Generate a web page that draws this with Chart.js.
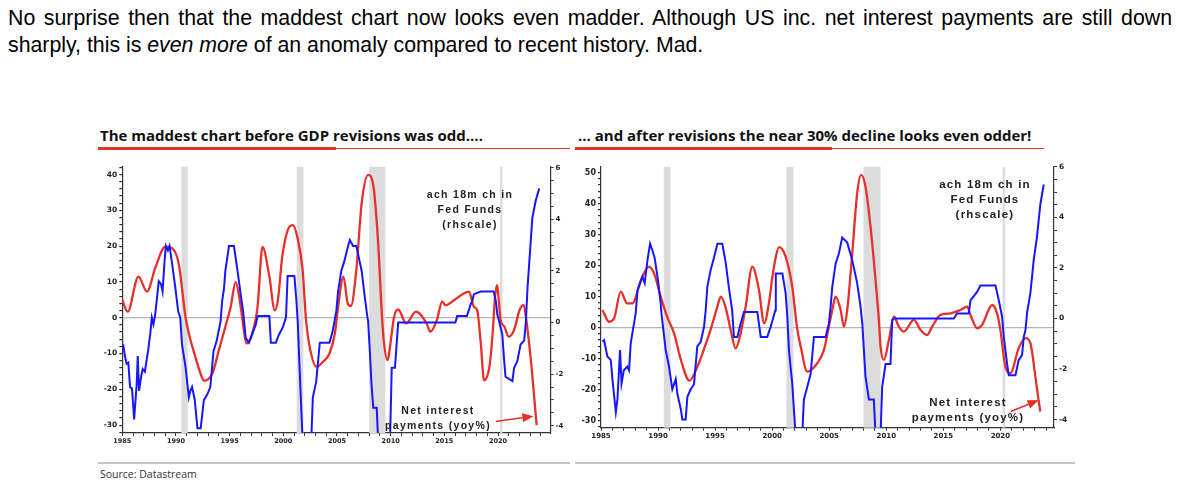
<!DOCTYPE html>
<html>
<head>
<meta charset="utf-8">
<script src="https://cdn.jsdelivr.net/npm/chart.js@4.4.0/dist/chart.umd.min.js"></script>
<style>
  html, body { margin: 0; padding: 0; background: #fff; }
  body { position: relative; width: 1182px; height: 490px; overflow: hidden; }
  .intro { position: absolute; left: 8px; top: 5px; width: 1164px; font: 21.3px/27px 'Liberation Sans', Arial, sans-serif; color: #000; }
  .intro .l1 { text-align: justify; text-align-last: justify; white-space: nowrap; }
  .title { position: absolute; top: 125px; font: bold 15px 'Open Sans', sans-serif; color: #111; white-space: nowrap; }
  .rule { position: absolute; background: #e8302a; }
  .grey { position: absolute; height: 2px; background: #c4c4c4; }
  .note { position: absolute; font: bold 10.5px/15px 'Liberation Sans', Arial, sans-serif; letter-spacing: 1.3px; color: #222; text-align: center; white-space: nowrap; transform: translate(-50%, -50%); }
  .note.big { font-size: 11.5px; line-height: 15px; letter-spacing: 1.2px; }
  .source { position: absolute; left: 100px; top: 467px; font: 10.5px 'Open Sans', sans-serif; color: #333; }
  canvas { position: absolute; top: 160px; }
</style>
</head>
<body>
<div class="intro">
  <div class="l1">No surprise then that the maddest chart now looks even madder. Although US inc. net interest payments are still down</div>
  <div>sharply, this is <i>even more</i> of an anomaly compared to recent history. Mad.</div>
</div>

<div class="title" style="left:100px">The maddest chart before GDP revisions was odd....</div>
<div class="title" style="left:578px">... and after revisions the near 30% decline looks even odder!</div>
<div class="rule" style="left:98px;top:147px;width:238px;height:3px"></div>
<div class="rule" style="left:336px;top:148px;width:234px;height:1px"></div>
<div class="rule" style="left:575px;top:147px;width:257px;height:3px"></div>
<div class="rule" style="left:832px;top:148px;width:212px;height:1px"></div>

<canvas id="chart-before" width="480" height="290" style="left:95px"></canvas>
<canvas id="chart-after" width="500" height="290" style="left:575px"></canvas>

<div class="note" style="left:470px;top:209px">ach 18m ch in<br>Fed Funds<br>(rhscale)</div>
<div class="note" style="left:438px;top:418px">Net interest<br>payments (yoy%)</div>
<div class="note big" style="left:985px;top:199px">ach 18m ch in<br>Fed Funds<br>(rhscale)</div>
<div class="note big" style="left:968px;top:410px">Net interest<br>payments (yoy%)</div>

<div class="grey" style="left:98px;top:462px;width:472px"></div>
<div class="grey" style="left:575px;top:462px;width:500px"></div>
<div class="source">Source: Datastream</div>

<script>
// ---- data ----

// before GDP revisions: net interest payments, yoy% (lhs)
const beforeNetYears = [1984.95, 1985.5, 1986.5, 1987.3, 1988.1, 1989.0, 1989.6, 1990.25, 1990.9, 1991.2,
  1991.8, 1992.4, 1992.6, 1993.4, 1994.0, 1994.6, 1995.1, 1995.56, 1995.94, 1996.2,
  1996.56, 1997.1, 1997.6, 1998.06, 1998.7, 1999.2, 1999.5, 1999.9, 2000.56, 2000.9,
  2001.3, 2001.8, 2002.1, 2002.4, 2003.1, 2003.7, 2004.3, 2004.8, 2005.1, 2005.6,
  2006.0, 2006.3, 2006.8, 2007.3, 2007.9, 2008.4, 2008.8, 2009.2, 2009.35, 2009.7,
  2010.1, 2010.3, 2010.7, 2011.45, 2012.35, 2013.35, 2013.7, 2014.3, 2014.8, 2015.1,
  2015.9, 2016.8, 2017.3, 2017.75, 2018.06, 2018.4, 2018.7, 2019.2, 2019.5, 2019.7,
  2019.9, 2020.25, 2020.6, 2021.0, 2021.5, 2022.0, 2022.4, 2022.6, 2023.06, 2023.6];
const beforeNetValues = [5.4, 1.7, 11.5, 7.3, 14.2, 19.8, 19.5, 15.2, 0, -4.4,
  -10.9, -16.5, -17.6, -15.5, -9, -2.5, 3.1, 10, 4.9, -0.7,
  -7.2, -4.4, 3.1, 19.8, 11.5, 2.1, 5, 17, 25.4, 25.9,
  22.6, 13.3, 0, -7.2, -13.7, -12.3, -10, -4.4, 3, 11.5,
  4, 3.3, 13.3, 32, 39.9, 36.6, 22.6, 0, -6.2, -11.8,
  -4.4, 0, 2.3, -1.6, 1.7, -1.6, -3.9, -0.7, 4.5, 3.5,
  4.9, 6.8, 7.3, 3.1, 2.1, -7.2, -17.5, -13.7, -4.4, 4.9,
  9.1, -0.7, -2.5, -5.3, -3.4, 2.1, 3.5, 0.3, -11.8, -30];

// before GDP revisions: 18m change in Fed Funds (rhs)
const beforeFedYears = [1984.94, 1985.1, 1985.25, 1985.4, 1985.56, 1985.72, 1985.9, 1986.03, 1986.1, 1986.34,
  1986.44, 1986.56, 1986.75, 1986.9, 1987.1, 1987.4, 1987.6, 1987.75, 1987.9, 1988.06,
  1988.2, 1988.4, 1988.6, 1988.75, 1988.94, 1989.06, 1989.25, 1989.4, 1989.6, 1989.94,
  1990.2, 1990.4, 1990.56, 1990.9, 1991.2, 1991.34, 1991.5, 1991.75, 1992.0, 1992.3,
  1992.6, 1992.9, 1993.2, 1993.5, 1993.8, 1994.16, 1994.3, 1994.47, 1994.6, 1994.94,
  1995.4, 1995.7, 1996.03, 1996.25, 1996.5, 1996.8, 1997.1, 1997.44, 1997.6, 1998.7,
  1998.84, 1999.3, 1999.6, 1999.94, 2000.25, 2000.4, 2001.03, 2001.2, 2001.34, 2001.5,
  2001.8, 2002.6, 2002.75, 2003.06, 2003.4, 2004.3, 2004.6, 2004.94, 2005.1, 2005.4,
  2005.7, 2006.03, 2006.2, 2006.5, 2006.8, 2007.3, 2007.6, 2007.84, 2007.9, 2008.06,
  2008.2, 2008.38, 2008.7, 2008.84, 2009.94, 2010.1, 2010.4, 2010.7, 2016.03, 2016.2,
  2017.1, 2017.3, 2017.44, 2017.6, 2017.75, 2018.4, 2019.6, 2019.8, 2019.94, 2020.1,
  2020.4, 2020.56, 2020.7, 2021.34, 2021.5, 2021.8, 2022.1, 2022.44, 2022.6, 2022.75,
  2022.9, 2023.2, 2023.5, 2023.84];
const beforeFedValues = [-0.98, -0.9, -1.3, -1.6, -1.55, -2.5, -2.55, -3.3, -3.75, -2.4,
  -1.3, -2.65, -2.1, -1.8, -1.9, -1.1, -0.46, 0.2, -0.07, 0.3,
  0.83, 1.6, 1.5, 1.2, 2.4, 2.97, 2.8, 2.97, 2.4, 1.35,
  0.45, 0.19, -0.85, -1.75, -2.9, -2.65, -2.5, -3.0, -4.1, -4.1,
  -3.0, -2.8, -2.5, -1.1, -0.7, 0.06, 0.83, 1.3, 2.0, 2.97,
  2.97, 2.1, 1.1, 0.45, -0.6, -0.78, -0.46, -0.07, 0.25, 0.25,
  -0.78, -0.78, -0.46, -0.2, 0.2, 1.8, 1.8, 0.96, 0.06, -1.6,
  -4.6, -4.6, -2.9, -2.3, -0.78, -0.78, -0.33, 0.45, 1.2, 2.0,
  2.4, 2.97, 3.2, 2.97, 2.97, 2.0, 0.96, 0.19, 0.06, -1.1,
  -2.3, -3.3, -3.3, -4.6, -4.6, -1.75, -1.75, 0, 0, 0.25,
  0.25, 0.5, 0.7, 0.83, 1.1, 1.2, 1.2, 0.83, 0.3, 0.06,
  -0.46, -1.4, -2.1, -2.27, -1.75, -1.5, -0.85, -0.7, 0.06, 1.35,
  2.25, 4.06, 4.7, 5.2];

// after GDP revisions: net interest payments, yoy% (lhs)
const afterNetYears = [1985.13, 1985.7, 1986.15, 1986.73, 1987.3, 1987.75, 1988.5, 1989.2, 1989.65, 1990.23,
  1990.8, 1991.4, 1992.0, 1992.75, 1993.45, 1994.0, 1994.6, 1995.2, 1995.5, 1995.9,
  1996.36, 1996.8, 1997.24, 1997.68, 1998.26, 1998.84, 1999.3, 1999.72, 2000.01, 2000.3,
  2000.6, 2001.18, 2001.76, 2002.2, 2002.5, 2003.08, 2003.95, 2004.54, 2004.97, 2005.27,
  2005.56, 2006.0, 2006.29, 2006.58, 2007.02, 2007.45, 2007.8, 2008.18, 2008.62, 2009.06,
  2009.35, 2009.5, 2009.8, 2010.23, 2010.67, 2011.1, 2011.54, 2012.42, 2013.0, 2013.58,
  2014.02, 2014.75, 2015.63, 2016.5, 2017.09, 2017.38, 2017.96, 2018.4, 2019.28, 2019.71,
  2020.0, 2020.44, 2020.88, 2021.6, 2022.2, 2022.63, 2023.07, 2023.3, 2023.5];
const afterNetValues = [5.7, 1.9, 3, 11.6, 7.8, 7.8, 15.4, 19.7, 17.5, 10,
  3.5, -1.8, -10.4, -17.1, -12.6, -7.2, -0.75, 6.8, 10, 6.8,
  -0.7, -6.7, -1.8, 6.8, 19.7, 12.2, 1.4, 8, 16, 22.5,
  26, 22.9, 13.2, -0.5, -6.1, -14.2, -11.5, -7.2, 0.3, 5.7,
  10, 5.7, 0.3, 5.7, 24, 43.3, 49.3, 45.5, 32.6, 15.4,
  2.5, -6.1, -10.4, -4, 3.6, 0.3, -1.3, 2.5, -0.75, -2.4,
  0.3, 4.1, 4.6, 5.7, 6.8, 4.1, -0.2, 0.9, 7.3, 4.6,
  -0.75, -12.6, -14.7, -6.7, -3.4, -5, -15.8, -22.2, -27.1];

// after GDP revisions: 18m change in Fed Funds (rhs)
const afterFedYears = [1985.13, 1985.27, 1985.56, 1985.86, 1986.0, 1986.3, 1986.44, 1986.67, 1986.8, 1987.0,
  1987.3, 1987.46, 1987.6, 1987.84, 1988.04, 1988.2, 1988.63, 1988.83, 1989.07, 1989.3,
  1989.5, 1989.7, 1990.0, 1990.23, 1990.3, 1990.67, 1990.96, 1991.25, 1991.55, 1991.7,
  1992.0, 1992.13, 1992.42, 1992.57, 1992.86, 1993.15, 1993.44, 1993.74, 1994.03, 1994.17,
  1994.32, 1994.6, 1994.9, 1995.2, 1995.63, 1995.93, 1996.2, 1996.5, 1996.65, 1996.95,
  1997.24, 1997.53, 1998.7, 1999.0, 1999.57, 1999.87, 2000.28, 2000.32, 2000.9, 2001.18,
  2001.33, 2001.47, 2001.76, 2002.05, 2002.64, 2002.78, 2003.08, 2003.37, 2003.66, 2004.68,
  2004.97, 2005.12, 2005.27, 2005.56, 2005.85, 2006.14, 2006.58, 2007.02, 2007.45, 2007.75,
  2007.9, 2008.04, 2008.18, 2008.48, 2008.91, 2009.06, 2009.5, 2009.64, 2009.94, 2010.37,
  2010.52, 2010.67, 2015.92, 2016.2, 2017.23, 2017.38, 2017.96, 2018.25, 2019.57, 2019.86,
  2020.15, 2020.3, 2020.59, 2020.74, 2021.32, 2021.6, 2021.9, 2022.05, 2022.2, 2022.35,
  2022.63, 2022.92, 2023.2, 2023.5, 2023.8];
const afterFedValues = [-0.92, -0.86, -1.5, -1.65, -2.4, -3.7, -3.2, -1.25, -2.57, -2.05,
  -1.9, -2.05, -1.0, -0.33, 0.2, 1.1, 1.65, 1.4, 2.3, 2.96,
  2.7, 2.4, 1.5, 0.6, 0.2, -1.25, -1.9, -2.8, -2.4, -3.0,
  -3.6, -4.0, -4.0, -3.1, -2.8, -2.6, -1.1, -0.92, -0.33, 0.3,
  1.25, 1.9, 2.4, 2.96, 2.96, 2.2, 1.25, 0.3, -0.73, -0.73,
  -0.2, 0.26, 0.26, -0.73, -0.73, -0.33, 0.33, 1.78, 1.78, 1.0,
  0.07, -1.25, -2.57, -4.6, -4.6, -3.2, -2.7, -2.2, -0.73, -0.73,
  -0.2, 0.46, 1.25, 2.17, 2.57, 3.2, 3.0, 2.3, 1.4, 0.46,
  -0.2, -1.25, -2.3, -3.2, -3.2, -4.6, -4.6, -2.7, -1.8, -1.8,
  -0.07, 0, 0, 0.2, 0.2, 0.72, 1.05, 1.3, 1.3, 0.72,
  0.07, -0.73, -1.8, -2.25, -2.25, -1.65, -1.45, -0.73, -0.46, 0.26,
  1.0, 2.3, 3.2, 4.5, 5.3];

// US recessions (shaded)
const recessionStarts = [1990.5, 2001.25, 2008.0, 2020.2];
const recessionEnds = [1991.1, 2001.87, 2009.5, 2020.42];

// axis labels
const xLabelYears = [1985, 1990, 1995, 2000, 2005, 2010, 2015, 2020];
const beforeLhsLabels = [-30, -20, -10, 0, 10, 20, 30, 40];
const afterLhsLabels = [-30, -20, -10, 0, 10, 20, 30, 40, 50];
const rhsLabels = [-4, -2, 0, 2, 4, 6];

const RED = '#e8302a';
const BLUE = '#1616ff';

Chart.defaults.font.family = "'DejaVu Sans', sans-serif";
Chart.defaults.font.weight = 'bold';
Chart.defaults.color = '#222';

// grey bars for recessions, drawn under the lines
const recessionPlugin = {
    id: 'recessionBands',
    beforeDatasetsDraw(chart) {
        const x = chart.scales.x;
        const area = chart.chartArea;
        const ctx = chart.ctx;
        ctx.save();
        ctx.fillStyle = '#dcdcdc';
        recessionStarts.forEach((start, i) => {
            const x1 = x.getPixelForValue(start);
            const x2 = x.getPixelForValue(recessionEnds[i]);
            ctx.fillRect(x1, area.top, x2 - x1, area.bottom - area.top);
        });
        ctx.restore();
    }
};

// red arrow pointing at the latest net interest reading
const arrowPlugin = {
    id: 'noteArrow',
    afterDatasetsDraw(chart, args, opts) {
        const x = chart.scales.x;
        const y = chart.scales.yL;
        const x1 = x.getPixelForValue(opts.from[0]), y1 = y.getPixelForValue(opts.from[1]);
        const x2 = x.getPixelForValue(opts.to[0]), y2 = y.getPixelForValue(opts.to[1]);
        const ang = Math.atan2(y2 - y1, x2 - x1);
        const ctx = chart.ctx;
        ctx.save();
        ctx.strokeStyle = RED;
        ctx.fillStyle = RED;
        ctx.lineWidth = 1.6;
        ctx.beginPath();
        ctx.moveTo(x1, y1);
        ctx.lineTo(x2 - 8 * Math.cos(ang), y2 - 8 * Math.sin(ang));
        ctx.stroke();
        ctx.beginPath();
        ctx.moveTo(x2, y2);
        ctx.lineTo(x2 - 11 * Math.cos(ang) + 4.5 * Math.sin(ang), y2 - 11 * Math.sin(ang) - 4.5 * Math.cos(ang));
        ctx.lineTo(x2 - 11 * Math.cos(ang) - 4.5 * Math.sin(ang), y2 - 11 * Math.sin(ang) + 4.5 * Math.cos(ang));
        ctx.closePath();
        ctx.fill();
        ctx.restore();
    }
};

const toPoints = (xs, ys) => xs.map((x, i) => ({ x: x, y: ys[i] }));

function buildChart(canvasId, cfg) {
    const ctx = document.getElementById(canvasId).getContext('2d');
    return new Chart(ctx, {
        type: 'line',
        data: {
            datasets: [{
                label: '18m ch in Fed Funds (rhs)',
                data: toPoints(cfg.fedYears, cfg.fedValues),
                yAxisID: 'yR',
                borderColor: BLUE,
                borderWidth: 2,
                pointRadius: 0,
                tension: 0
            }, {
                label: 'Net interest payments (yoy%)',
                data: toPoints(cfg.netYears, cfg.netValues),
                yAxisID: 'yL',
                borderColor: RED,
                borderWidth: 2.3,
                pointRadius: 0,
                cubicInterpolationMode: 'monotone'
            }]
        },
        options: {
            responsive: false,
            animation: false,
            events: [],
            layout: { padding: { top: 6.7, left: 0, right: 0, bottom: 0 } },
            plugins: {
                legend: { display: false },
                tooltip: { enabled: false },
                noteArrow: { from: cfg.arrowFrom, to: cfg.arrowTo }
            },
            scales: {
                x: {
                    type: 'linear',
                    min: 1985,
                    max: cfg.xMax,
                    afterBuildTicks: scale => {
                        scale.ticks = [];
                        for (let yr = 1985; yr < cfg.xMax; yr++) scale.ticks.push({ value: yr });
                    },
                    afterFit: scale => { scale.height = cfg.xHeight; },
                    ticks: {
                        autoSkip: false,
                        maxRotation: 0,
                        padding: 1,
                        font: { size: cfg.xFont },
                        callback: v => xLabelYears.includes(v) ? String(v) : ''
                    },
                    grid: { drawOnChartArea: false, tickLength: 3, tickColor: '#333' },
                    border: { color: '#333', width: 1.2 }
                },
                yL: {
                    position: 'left',
                    min: cfg.lhsMin,
                    max: cfg.lhsMax,
                    afterBuildTicks: scale => {
                        scale.ticks = [];
                        for (let v = -32; v <= cfg.lhsMax; v += 2) scale.ticks.push({ value: v });
                    },
                    afterFit: scale => { scale.width = cfg.lhsWidth; },
                    ticks: {
                        autoSkip: false,
                        padding: 2,
                        font: { size: cfg.yFont },
                        callback: v => cfg.lhsLabels.includes(v) ? String(v) : ''
                    },
                    grid: {
                        color: c => c.tick && c.tick.value === 0 ? '#b5b5b5' : 'rgba(0,0,0,0)',
                        lineWidth: 1.2,
                        tickLength: 3,
                        tickColor: '#333'
                    },
                    border: { color: '#333', width: 1.2 }
                },
                yR: {
                    position: 'right',
                    min: cfg.rhsMin,
                    max: cfg.rhsMax,
                    afterBuildTicks: scale => {
                        scale.ticks = [];
                        for (let v = -4; v <= 6; v += 0.5) scale.ticks.push({ value: v });
                    },
                    afterFit: scale => { scale.width = cfg.rhsWidth; },
                    ticks: {
                        autoSkip: false,
                        padding: 2,
                        font: { size: cfg.yFont - 0.5 },
                        callback: v => rhsLabels.includes(v) ? String(v) : ''
                    },
                    grid: { drawOnChartArea: false, tickLength: 3, tickColor: '#333' },
                    border: { color: '#333', width: 1.2 }
                }
            }
        },
        plugins: [recessionPlugin, arrowPlugin]
    });
}

document.addEventListener('DOMContentLoaded', () => {
    buildChart('chart-before', {
        netYears: beforeNetYears, netValues: beforeNetValues,
        fedYears: beforeFedYears, fedValues: beforeFedValues,
        lhsLabels: beforeLhsLabels,
        lhsMin: -32.2, lhsMax: 42.2, rhsMin: -4.28, rhsMax: 6.04,
        xMax: 2024.9, xHeight: 17, lhsWidth: 27.3, rhsWidth: 24.4, xFont: 6.5, yFont: 7.5,
        arrowFrom: [2019.8, -29.0], arrowTo: [2023.3, -27.5]
    });
    buildChart('chart-after', {
        netYears: afterNetYears, netValues: afterNetValues,
        fedYears: afterFedYears, fedValues: afterFedValues,
        lhsLabels: afterLhsLabels,
        lhsMin: -32.3, lhsMax: 51.9, rhsMin: -4.32, rhsMax: 6.0,
        xMax: 2024.7, xHeight: 22.3, lhsWidth: 26, rhsWidth: 21, xFont: 7, yFont: 8,
        arrowFrom: [2020.9, -27.1], arrowTo: [2023.35, -23.4]
    });
});
</script>
</body>
</html>
